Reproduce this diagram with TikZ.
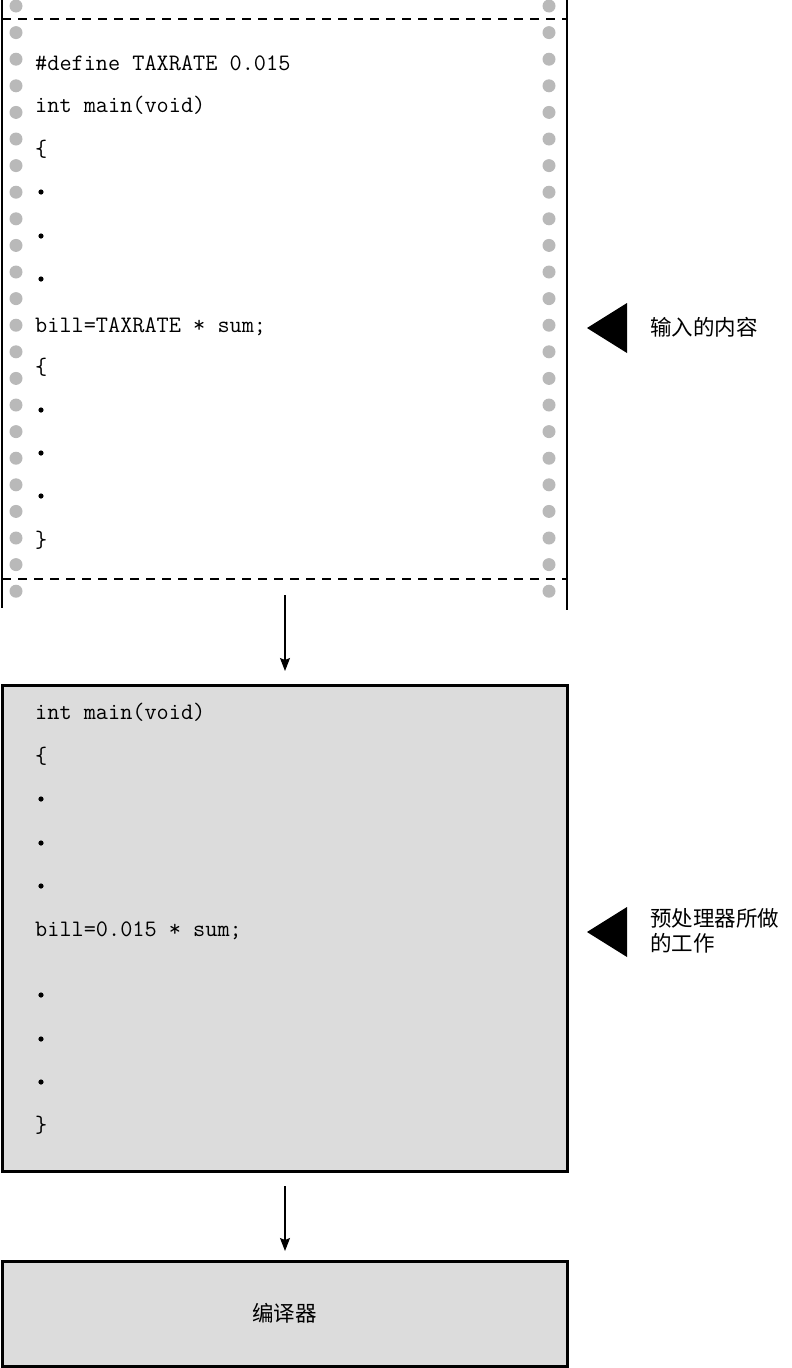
\documentclass[tikz,border=0pt]{standalone}
\usepackage{fontspec}
\newfontfamily\cjk{Noto Sans CJK SC}
\usetikzlibrary{arrows.meta}
\definecolor{holegray}{RGB}{185,185,185}
\definecolor{boxgray}{RGB}{220,220,220}
\begin{document}
\begin{tikzpicture}[x=1pt,y=-1pt,
  codeline/.style={anchor=base west,inner sep=0pt,font=\ttfamily\fontsize{23.6}{26}\selectfont},
  dotmark/.style={fill=black,draw=none},
  hole/.style={fill=holegray,draw=none},
  paperline/.style={line width=1.4pt},
  cutline/.style={line width=1.4pt,dash pattern=on 9pt off 7pt},
  graybox/.style={draw=black,line width=3pt,fill=boxgray,inner sep=0pt,outer sep=0pt,anchor=north west},
  pointer/.style={fill=black,draw=none},
  label/.style={anchor=west,inner sep=0pt,align=left,font=\cjk\fontsize{21.5}{25}\selectfont},
  flow/.style={line width=1.1pt,-{Stealth[length=13pt,width=10pt,inset=2pt]}}]
\useasboundingbox (0,0) rectangle (792,1368);
% paper
\draw[paperline] (2,0) -- (2,608);
\draw[paperline] (567,0) -- (567,610);
\draw[cutline] (2,19) -- (567,19);
\draw[cutline] (2,579) -- (567,579);
\foreach \k in {0,...,22}{
  \fill[hole] (16,6+26.6*\k) circle (6.5);
  \fill[hole] (549,6+26.6*\k) circle (6.5);
}
\node[codeline] (p1) at (35,70.5) {\#define TAXRATE 0.015};
\node[codeline] (p2) at (35,112.5) {int main(void)};
\node[codeline] (p3) at (35,156.5) {\{};
\node[codeline] (p7) at (35,332.5) {bill=TAXRATE * sum;};
\node[codeline] (p8) at (35,374.5) {\{};
\node[codeline] (p12) at (35,547.5) {\}};
\foreach \y in {192,236,279,410,453,496}{
  \fill[dotmark] (41,\y) circle (2.6);
}
% triangle + label 1
\fill[pointer] (587,328) -- (627,303) -- (627,353) -- cycle;
\node[label] (l1) at (650,327) {输入的内容};
% box 2
\node[graybox,minimum width=565pt,minimum height=486pt] (box2) at (2,685) {};
\node[codeline] (b1) at (35,719.5) {int main(void)};
\node[codeline] (b2) at (35,763.5) {\{};
\node[codeline] (b6) at (35,936.5) {bill=0.015 * sum;};
\node[codeline] (b10) at (35,1132.5) {\}};
\foreach \y in {799,843,886,995,1039,1082}{
  \fill[dotmark] (41,\y) circle (2.6);
}
\fill[pointer] (587,932) -- (627,907) -- (627,957) -- cycle;
\node[label] (l2) at (650,931) {预处理器所做\\的工作};
% box 3
\node[graybox,minimum width=565pt,minimum height=105pt] (box3) at (2,1261) {};
\node[font=\cjk\fontsize{21.5}{25}\selectfont,inner sep=0pt] (comp) at (box3.center) {编译器};
% arrows
\coordinate (a1) at (285,595);
\coordinate (a2) at (285,1186);
\draw[flow,shorten >=14pt] (a1) -- (a1 |- box2.north);
\draw[flow,shorten >=10pt] (a2) -- (a2 |- box3.north);
\end{tikzpicture}
\end{document}
